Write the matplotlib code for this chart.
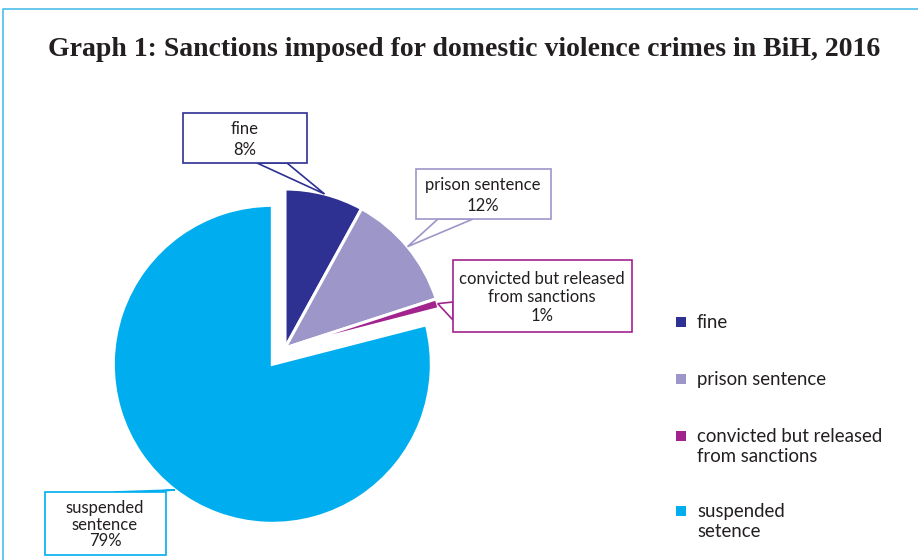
import numpy as np
import matplotlib
matplotlib.use("Agg")
import matplotlib.pyplot as plt
from matplotlib.patches import Rectangle, Polygon

## data ##
labels = ["fine", "prison sentence", "convicted but released\nfrom sanctions", "suspended\nsentence"]
legend_labels = ["fine", "prison sentence", "convicted but released\nfrom sanctions", "suspended\nsetence"]
shares = [8, 12, 1, 79]
colors = ["#2E3192", "#9D96C9", "#A2238E", "#00AEEF"]

W, H = 918, 560
R = 159
explode = [0, 0, 0, 0.13 * R]  # pie explode is in data units here
plt.rcParams['font.family'] = ['Lato', 'DejaVu Sans']

fig = plt.figure(figsize=(W / 100, H / 100), dpi=100)
ax = fig.add_axes([0, 0, 1, 1])

wedges, _ = ax.pie(shares, colors=colors, explode=explode, startangle=90, counterclock=False,
                   center=(285, H - 348), radius=R,
                   wedgeprops=dict(edgecolor='white', linewidth=2.2), frame=True)
ax.set_xlim(0, W)
ax.set_ylim(0, H)
ax.set_aspect('equal')
ax.axis('off')

# frame lines (top and left)
ax.plot([3, 3, W], [0, H - 9, H - 9], color="#4DBDE9", lw=1.2, solid_capstyle='butt')

ax.text(464, H - 50, "Graph 1: Sanctions imposed for domestic violence crimes in BiH, 2016",
        ha='center', va='center', fontsize=20, fontweight='bold',
        family='Liberation Serif', color="#231F20")

# callouts: box centre (image px), box size, pointer base points relative to box centre, line spacing
boxes = [
    ((245, 138), (124, 50), [(12, 25), (42, 25)], 1.45),
    ((483, 194), (135, 50), [(-45, 25), (-10, 25)], 1.45),
    ((542, 296), (179, 72), [(-89, 6), (-89, 24)], 1.23),
    ((105, 523), (121, 63), [(10, -31), (42, -31)], 1.04),
]

for i, w in enumerate(wedges):
    (cx, cy), (bw, bh), base, ls = boxes[i]
    cy = H - cy
    ang = np.deg2rad((w.theta1 + w.theta2) / 2)
    tip = (w.center[0] + w.r * np.cos(ang), w.center[1] + w.r * np.sin(ang))
    pts = [(cx + b[0], cy - b[1]) for b in base]
    ax.add_patch(Polygon([pts[0], tip, pts[1]], closed=True, facecolor='white',
                         edgecolor=colors[i], lw=1.2, zorder=5))
    ax.add_patch(Rectangle((cx - bw / 2, cy - bh / 2), bw, bh, facecolor='white',
                           edgecolor=colors[i], lw=1.2, zorder=6))
    ax.text(cx, cy - 1.5, f"{labels[i]}\n{shares[i]}%", ha='center', va='center',
            fontsize=12, color="#231F20", zorder=7, linespacing=ls)

# legend
leg_y = [322, 379, 436, 511]
for i in range(len(shares)):
    ax.add_patch(Rectangle((676, H - leg_y[i] - 5), 10, 10, facecolor=colors[i], edgecolor='none'))
    ax.text(697, H - leg_y[i] + 8, legend_labels[i], ha='left', va='top',
            fontsize=13.4, color="#231F20", linespacing=1.24)

fig.savefig("out.png", dpi=100)
